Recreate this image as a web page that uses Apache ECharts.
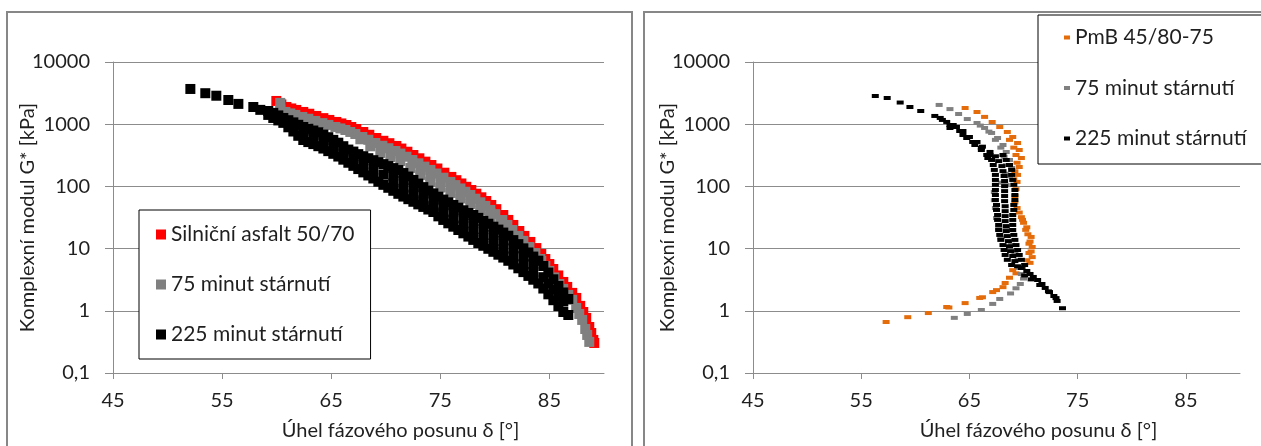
<!DOCTYPE html>
<html>
<head>
<meta charset="utf-8">
<script src="https://cdn.jsdelivr.net/npm/echarts@6/dist/echarts.min.js"></script>
<style>
html,body{margin:0;padding:0;background:#fff;}
#c{width:1261px;height:446px;}
</style>
</head>
<body>
<div id="c"></div>
<script>
// ---- labels ----
const xTickValues = [45, 55, 65, 75, 85];
const yTitle = 'Komplexní modul G* [kPa]';
const xTitle = 'Úhel fázového posunu δ [°]';
const leftNames = ['Silniční asfalt 50/70', '75 minut stárnutí', '225 minut stárnutí'];
const rightNames = ['PmB 45/80-75', '75 minut stárnutí', '225 minut stárnutí'];

// ---- left panel: [phase angle δ (°), |G*| (kPa)] ----
const asfalt5070 = [[59.97,2364],[60.43,2078],[60.89,1893],[61.34,1791],[61.80,1695],[62.44,1574],[62.99,1473],[63.63,1357],[64.28,1252],[64.83,1171],[65.47,1087],[65.93,1029],[66.39,971],[66.84,902],[67.30,837],[67.94,749],[68.49,676],[69.13,600],[69.78,541],[70.33,495],[70.97,447],[71.43,406],[71.98,361],[72.53,320],[73.08,283],[73.63,250],[74.18,221],[74.73,194],[75.37,166],[76.01,142],[76.47,126],[76.93,111.5],[77.38,98.5],[77.84,87.5],[78.30,76.3],[78.76,66.8],[79.21,58.3],[79.67,50.3],[80.13,43.1],[80.77,34.7],[81.23,28.9],[81.69,24.0],[82.24,19.2],[82.70,16.0],[83.25,12.8],[83.80,10.2],[84.25,8.19],[84.62,6.81],[84.99,5.66],[85.35,4.70],[85.81,3.70],[86.27,2.91],[86.63,2.42],[87.09,1.94],[87.46,1.61],[87.82,1.20],[88.10,0.957],[88.37,0.767],[88.65,0.549],[88.83,0.440],[89.02,0.340],[89.11,0.304]];

const aged75Left = [[60.33,2200],[60.34,1727],[60.80,1573],[61.25,1489],[61.71,1409],[62.35,1308],[62.90,1224],[63.54,1128],[64.19,1040],[64.74,973],[65.38,903],[65.84,855],[66.30,807],[66.75,750],[67.21,696],[67.85,622],[68.40,562],[69.04,499],[69.69,450],[70.24,411],[70.88,371],[71.34,337],[71.89,300],[72.44,266],[72.99,235],[73.54,208],[74.09,184],[74.64,161],[75.28,138],[75.92,118],[76.38,105],[76.84,92.7],[77.29,81.9],[77.75,72.7],[78.21,63.4],[78.67,55.5],[79.12,48.5],[79.58,41.8],[80.04,35.8],[80.68,28.8],[81.14,24.0],[81.60,19.9],[82.15,16.0],[82.61,13.3],[83.16,10.6],[83.71,8.48],[84.16,6.81],
[84.25,6.33],[84.62,5.26],[84.98,4.37],[85.44,3.44],[85.90,2.70],[86.26,2.25],[86.72,1.80],[87.09,1.50],[87.45,1.11],[87.73,0.889],[88.00,0.713],[88.28,0.510],[88.46,0.409],[88.65,0.316],
[67.67,572],[68.58,441],[69.50,345],[70.42,297],[71.33,256],[72.25,198],[73.17,188],[73.17,153],[74.08,147],[74.08,118],[75.00,120],[75.00,96],[75.92,97.8],[75.92,78.3],[76.83,78.3],[76.83,64.0],[77.75,62.8],[77.75,52.2],[78.67,48.4],[78.67,40.7],[79.58,37.4],[79.58,31.9],[80.50,24.9],[81.42,19.0],[82.33,13.3]];

const aged225Left = [[52.09,3685],[53.46,3150],[54.47,2870],[55.57,2450],[56.49,2120],[57.86,1890],[58.50,1700],
// upper edge of the band
[59.23,1630],[59.69,1520],[60.15,1385],[60.61,1260],[61.07,1160],[61.53,1070],[61.98,978],[62.44,902],[62.90,844],[63.36,792],[63.82,741],[64.28,681],[64.73,618],[65.19,560],[65.65,504],[66.11,443],[66.57,391],[67.03,363],[67.48,330],[67.94,306],[68.40,284],[68.86,264],[69.32,245],[69.78,228],[70.23,212],[70.69,197],[71.15,183],[71.61,164],[72.07,144],[72.53,127],[72.98,111],[73.44,97.4],[73.90,85.6],[74.36,77.2],[74.82,68.3],[75.27,61.4],[75.73,55.5],[76.19,50.3],[76.65,45.5],[77.11,41.3],[77.57,37.4],[78.02,34.7],[78.48,31.2],[78.94,27.9],[79.40,25.1],[79.86,22.5],[80.32,20.2],[80.77,18.1],[81.23,16.1],[81.69,13.7],[82.15,11.8],[82.61,10.1],[83.07,8.66],[83.52,7.44],[83.98,6.40],[84.44,5.25],[84.90,4.12],[85.36,3.21],[85.82,2.51],[86.27,1.97],[86.73,1.55],
// lower edge of the band
[59.23,1410],[59.69,1260],[60.15,1150],[60.61,1050],[61.07,892],[61.53,763],[61.98,651],[62.44,557],[62.90,516],[63.36,479],[63.82,443],[64.28,406],[64.73,369],[65.19,334],[65.65,302],[66.11,269],[66.57,240],[67.03,214],[67.48,190],[67.94,168],[68.40,150],[68.86,134],[69.32,119],[69.78,106],[70.23,95],[70.69,85],[71.15,76],[71.61,68.6],[72.07,62.3],[72.53,56.6],[72.98,51.4],[73.44,46.8],[73.90,42.5],[74.36,38.8],[74.82,33.0],[75.27,28.9],[75.73,25.5],[76.19,22.5],[76.65,19.9],[77.11,17.6],[77.57,15.6],[78.02,13.8],[78.48,12.3],[78.94,11.1],[79.40,9.93],[79.86,8.88],[80.32,7.98],[80.77,7.17],[81.23,6.37],[81.69,5.55],[82.15,4.82],[82.61,4.19],[83.07,3.64],[83.52,3.16],[83.98,2.75],[84.44,2.28],[84.90,1.84],[85.36,1.48],[85.82,1.19],[86.27,0.957],[86.73,0.856],
// inside of the band
[62.44,709],[63.36,616],[64.28,525],[65.19,432],[66.11,345],[67.03,278],[67.94,227],[68.86,188],[69.78,155],[70.69,149],[70.69,112],[71.61,123],[71.61,91.5],[72.53,96.7],[72.53,73.8],[73.44,76.3],[73.44,59.8],[74.36,61.4],[74.36,48.8],[75.27,47.7],[75.27,37.1],[76.19,38.5],[76.19,29.4],[77.11,31.1],[77.11,23.5],[78.02,25.5],[78.02,18.8],[78.94,20.5],[78.94,15.0],[79.86,16.5],[79.86,12.1],[80.77,13.3],[80.77,9.74],[81.69,10.1],[81.69,7.49],[82.61,7.55],[82.61,5.61],[83.52,5.60],[83.52,4.21],[84.44,3.47],[84.90,2.75],[85.36,2.18],[85.82,1.73],[86.27,1.41]];

// ---- right panel ----
const pmb4580 = [[64.6,1820],[65.7,1570],[66.4,1310],[67.1,1085],[67.8,900],[68.5,750],[69.0,623],[69.45,499],[69.6,385],[69.8,286],[69.6,205],[69.45,153],[69.4,118],[69.3,90],
[68.7,560],[69.1,420],[69.3,320],[69.4,240],[69.2,175],[69.1,130],[69.2,70],[69.2,55],
[69.4,45],[69.8,32],[70.3,22],[70.7,15.4],[70.8,10.6],[70.8,7.3],[70.6,5.9],
[69.6,38],[70.0,26],[70.4,17],[70.5,12],[70.5,8.5],[70.3,6.5],[69.9,29],[70.2,20],[70.6,13],[70.7,9],
[69.9,4.9],[69.0,4.5],[69.3,4.0],[68.7,3.4],[68.3,2.8],[68.1,2.4],[67.5,2.15],[67.15,2.0],[66.2,1.65],[65.95,1.61],[64.6,1.33],[63.1,1.13],[62.9,1.15],[61.2,0.92],[59.3,0.79],[57.3,0.66]];

const aged75Right = [[62.2,2040],[63.2,1750],[64.0,1460],[64.8,1210],[65.7,1045],[66.4,870],[67.05,723],[67.6,600],[68.1,463],[68.4,357],[68.7,266],[68.9,198],[68.7,145],[68.4,105],
[66.0,950],[66.8,760],[67.4,560],[67.9,420],[68.2,300],[68.4,220],[68.3,160],[68.0,115],
[67.3,81],[67.3,60],[67.4,45],[67.5,31],[67.7,21],[67.9,15],
[68.4,20],[68.9,11.5],[69.2,8.8],[69.5,6.6],[69.6,4.9],[69.8,3.9],
[70.0,3.3],[69.7,2.7],[69.3,2.3],[68.8,1.9],[67.8,1.55],[67.15,1.29],[66.1,1.03],[64.8,0.89],[63.6,0.77]];

const aged225Right = [[56.3,2840],[57.4,2640],[58.6,2230],[59.5,1890],[60.5,1630],
[61.8,1357],[62.3,1261],[62.9,1087],[63.5,971],[63.8,902],[64.4,777],[65.0,623],[65.7,518],[66.2,435],[66.9,358],
[62.5,1171],[63.2,971],[64.1,777],[64.75,600],[65.5,463],[66.1,385],[66.7,286],
[63.2,869],[64.4,671],[65.3,518],[66.1,414],[66.6,320],
[66.9,320],[67.4,305],[68.1,320],[67.05,266],[67.7,255],[68.4,266],[67.2,221],[68.0,212],[68.7,221],
[67.3,184],[68.1,176],[68.9,184],[67.4,153],[68.2,147],[68.9,153],[67.4,127],[68.25,122],[69.0,127],
[67.4,106],[68.25,101],[69.1,106],[67.4,87.5],[68.25,84],[69.2,87.5],[67.4,72.7],[68.25,70],[69.2,72.7],
[67.4,60.5],[68.25,58],[69.2,60.5],[67.5,50.3],[68.3,48],[69.1,50.3],[67.5,41.8],[68.3,40],[69.1,41.8],
[67.6,34.7],[68.3,33.3],[69.0,34.7],[67.6,28.9],[68.3,27.7],[69.0,28.9],[67.7,24.0],[68.4,23],[69.0,24.0],
[67.7,19.9],[68.4,19.1],[69.0,19.9],[67.8,16.6],[68.5,15.9],[69.1,16.6],[67.9,13.8],[68.6,13.2],[69.2,13.8],
[68.1,11.4],[68.7,10.9],[69.3,11.4],[68.2,9.5],[68.8,9.1],[69.45,9.5],[68.3,7.9],[69.0,7.6],[69.6,7.9],
[68.5,6.6],[69.2,6.3],[69.8,6.6],[68.9,5.45],[69.45,5.2],[70.1,5.45],
[69.8,4.88],[70.3,4.36],[70.6,3.91],[70.9,3.5],[71.3,3.13],[71.7,2.7],[72.0,2.33],[72.4,2.0],[72.8,1.73],[73.1,1.44],[73.6,1.10],
[70.1,3.7],[70.7,3.2],[71.5,2.6],[72.3,2.05],[73.0,1.6]];

// ---- styling ----
const FONT = 'Lato';
const TXT = '#1f1f1f';
const GRID = '#8c8c8c';

function xAxisDef(gi) {
  return {
    type: 'value', gridIndex: gi, min: 45, max: 90,
    name: xTitle, nameLocation: 'middle', nameGap: 48, nameMoveOverlap: false,
    nameTextStyle: {fontFamily: FONT, fontSize: 20, color: TXT, padding: [0,0,0,84]},
    axisLine: {show: true, lineStyle: {color: GRID, width: 1}},
    axisTick: {show: true, length: 6, customValues: xTickValues, lineStyle: {color: GRID}},
    axisLabel: {fontFamily: FONT, fontSize: 20, color: TXT, margin: 18, customValues: xTickValues},
    splitLine: {show: false}
  };
}
function yAxisDef(gi) {
  return {
    type: 'log', logBase: 10, gridIndex: gi, min: 0.1, max: 10000,
    name: yTitle, nameLocation: 'middle', nameGap: 75, nameMoveOverlap: false,
    nameTextStyle: {fontFamily: FONT, fontSize: 20, color: TXT},
    axisLine: {show: true, lineStyle: {color: GRID, width: 1}},
    axisTick: {show: true, length: 8, lineStyle: {color: GRID}},
    axisLabel: {fontFamily: FONT, fontSize: 20, color: TXT, margin: 23,
      formatter: v => v < 0.5 ? '0,1' : String(Math.round(v))},
    splitLine: {show: true, lineStyle: {color: GRID, width: 1}},
    minorTick: {show: false}, minorSplitLine: {show: false}
  };
}
function sc(name, data, color, gi, size) {
  return {type: 'scatter', name, data, xAxisIndex: gi, yAxisIndex: gi,
    symbol: 'rect', symbolSize: size, itemStyle: {color, opacity: 1},
    emphasis: {disabled: true}, silent: true};
}

const chart = echarts.init(document.getElementById('c'), null, {renderer: 'canvas'});
chart.setOption({
  animation: false,
  backgroundColor: '#fff',
  graphic: [
    {type: 'rect', shape: {x: 7, y: 12, width: 625, height: 460}, style: {fill: 'none', stroke: '#878787', lineWidth: 2}, silent: true, z: -10},
    {type: 'rect', shape: {x: 644, y: 12, width: 640, height: 460}, style: {fill: 'none', stroke: '#878787', lineWidth: 2}, silent: true, z: -10}
  ],
  grid: [
    {left: 113, top: 62, width: 491, height: 311},
    {left: 753, top: 62, width: 487, height: 311}
  ],
  xAxis: [xAxisDef(0), xAxisDef(1)],
  yAxis: [yAxisDef(0), yAxisDef(1)],
  legend: [
    {data: leftNames, orient: 'vertical', left: 139, top: 210, icon: 'rect', itemWidth: 10, itemHeight: 10,
     itemGap: 29, padding: [14, 16, 14, 17], borderColor: '#000', borderWidth: 1, backgroundColor: '#fff',
     selectedMode: false, textStyle: {fontFamily: FONT, fontSize: 21, color: TXT, lineHeight: 20}},
    {data: rightNames, orient: 'vertical', left: 1038, top: 15, icon: 'rect', itemWidth: 6, itemHeight: 4,
     itemGap: 29.5, padding: [12, 80, 15, 26], borderColor: '#000', borderWidth: 1, backgroundColor: '#fff',
     selectedMode: false, textStyle: {fontFamily: FONT, fontSize: 21, color: TXT, lineHeight: 20}}
  ],
  series: [
    sc(leftNames[0], asfalt5070, '#ff0000', 0, 10),
    sc(leftNames[1], aged75Left, '#808080', 0, 10),
    sc(leftNames[2], aged225Left, '#000000', 0, 10),
    sc(rightNames[0], pmb4580, '#e46c0a', 1, [7, 4]),
    sc(rightNames[1], aged75Right, '#808080', 1, [7, 4]),
    sc(rightNames[2], aged225Right, '#000000', 1, [7, 4])
  ]
});
</script>
</body>
</html>
